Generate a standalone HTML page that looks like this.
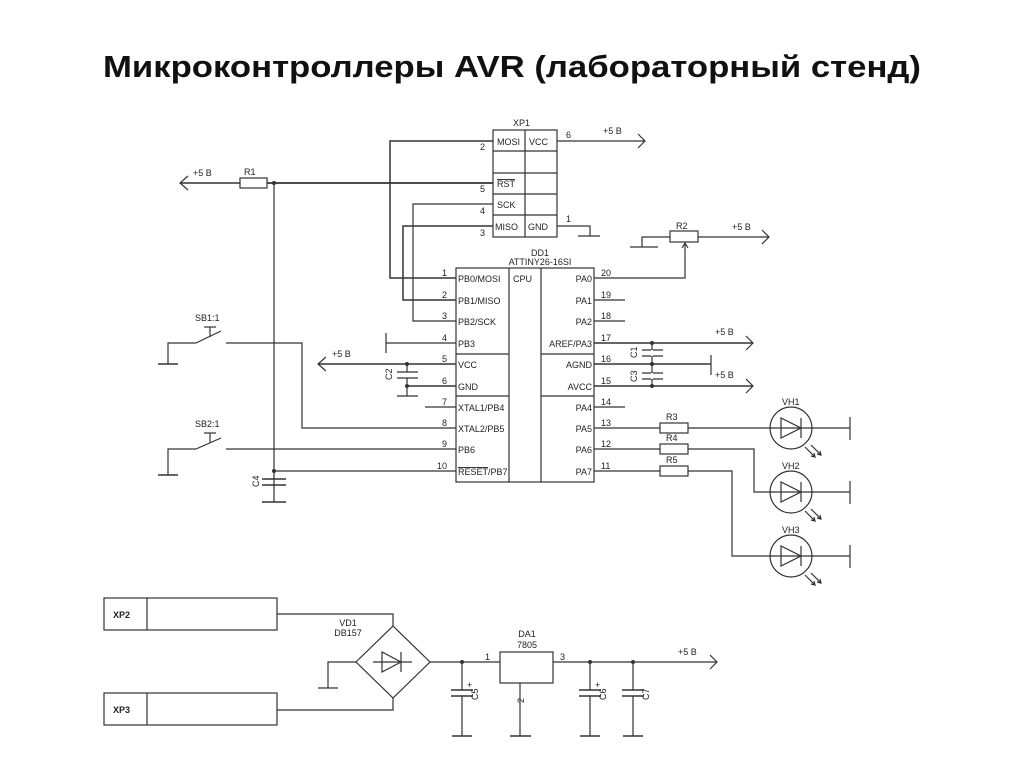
<!DOCTYPE html>
<html><head><meta charset="utf-8"><style>
html,body{margin:0;padding:0;background:#fff;}
svg{display:block;}
text{font-family:"Liberation Sans",sans-serif;fill:#222;}
.s{font-size:9px;}
</style></head><body>
<svg width="1024" height="767" viewBox="0 0 1024 767" xmlns="http://www.w3.org/2000/svg">
<text x="512" y="77" text-anchor="middle" font-size="31" font-weight="bold" textLength="818" lengthAdjust="spacingAndGlyphs" style="fill:#111">Микроконтроллеры AVR (лабораторный стенд)</text>
<g stroke="#333" stroke-width="1.2" fill="none">
<rect x="493" y="130" width="64" height="107"/>
<line x1="525" y1="130" x2="525" y2="237"/>
<line x1="493" y1="151" x2="557" y2="151"/><line x1="493" y1="173" x2="557" y2="173"/>
<line x1="493" y1="194" x2="557" y2="194"/><line x1="493" y1="215" x2="557" y2="215"/>
<line x1="557" y1="141" x2="645" y2="141"/><polyline points="638,134 645,141 638,148"/>
<polyline points="493,141 390,141 390,278 456,278" stroke-width="1.5"/>
<polyline points="493,204 413,204 413,321 456,321"/>
<polyline points="493,226 403,226 403,300 456,300" stroke-width="1.5"/>
<polyline points="557,226 590,226 590,236"/><line x1="578" y1="236" x2="600" y2="236"/>
<line x1="180" y1="183" x2="240" y2="183" stroke-width="1.5"/><polyline points="188,176 180,183 188,190"/>
<rect x="240" y="178" width="27" height="10"/>
<line x1="267" y1="183" x2="493" y2="183" stroke-width="1.8"/>
<line x1="274" y1="183" x2="274" y2="502"/>
<rect x="456" y="268" width="138" height="214"/>
<line x1="509" y1="268" x2="509" y2="482"/><line x1="541" y1="268" x2="541" y2="482"/>
<line x1="456" y1="354" x2="509" y2="354"/><line x1="456" y1="396" x2="509" y2="396"/>
<line x1="541" y1="354" x2="594" y2="354"/><line x1="541" y1="396" x2="594" y2="396"/>
<line x1="425" y1="407" x2="456" y2="407"/>
<line x1="594" y1="300" x2="625" y2="300"/><line x1="594" y1="321" x2="625" y2="321"/><line x1="594" y1="407" x2="625" y2="407"/>
<line x1="386" y1="343" x2="456" y2="343"/><line x1="386" y1="333" x2="386" y2="353"/>
<line x1="318" y1="364" x2="456" y2="364" stroke-width="1.6"/><polyline points="326,357 318,364 326,371"/>
<line x1="407" y1="364" x2="407" y2="372"/><line x1="397" y1="372" x2="418" y2="372"/><line x1="397" y1="378" x2="418" y2="378"/>
<line x1="407" y1="378" x2="407" y2="396"/><line x1="397" y1="396" x2="418" y2="396"/>
<line x1="407" y1="386" x2="456" y2="386" stroke-width="1.6"/>
<line x1="158" y1="364" x2="178" y2="364" stroke-width="1.6"/><polyline points="168,364 168,343 196,343"/>
<line x1="196" y1="343" x2="221" y2="331"/><line x1="210" y1="327" x2="210" y2="337"/><line x1="204" y1="327" x2="216" y2="327"/>
<polyline points="226,343 302,343 302,428 456,428"/>
<line x1="158" y1="475" x2="178" y2="475" stroke-width="1.6"/><polyline points="168,475 168,449 196,449"/>
<line x1="196" y1="449" x2="221" y2="438"/><line x1="210" y1="433" x2="210" y2="443"/><line x1="204" y1="433" x2="216" y2="433"/>
<line x1="226" y1="449" x2="456" y2="449"/>
<line x1="274" y1="471" x2="456" y2="471"/>
<line x1="262" y1="479" x2="286" y2="479" stroke-width="1.5"/><line x1="262" y1="485" x2="286" y2="485" stroke-width="1.5"/>
<line x1="262" y1="502" x2="286" y2="502" stroke-width="1.6"/>
<polyline points="594,278 685,278 685,243"/><polyline points="682,248 685,243 688,248"/>
<rect x="670" y="231" width="28" height="11"/>
<polyline points="670,237 642,237 642,247"/><line x1="630" y1="247" x2="658" y2="247"/>
<line x1="698" y1="237" x2="769" y2="237"/><polyline points="762,230 769,237 762,244"/>
<line x1="594" y1="343" x2="753" y2="343" stroke-width="1.5"/><polyline points="746,336 753,343 746,350"/>
<line x1="594" y1="364" x2="711" y2="364" stroke-width="1.5"/><line x1="711" y1="355" x2="711" y2="375"/>
<line x1="594" y1="386" x2="753" y2="386" stroke-width="1.5"/><polyline points="746,379 753,386 746,393"/>
<line x1="652" y1="343" x2="652" y2="386"/>
<line x1="642" y1="350" x2="663" y2="350"/><line x1="642" y1="356" x2="663" y2="356"/>
<line x1="642" y1="373" x2="663" y2="373"/><line x1="642" y1="379" x2="663" y2="379"/>
<line x1="652" y1="350" x2="652" y2="356" stroke="#fff" stroke-width="2"/>
<line x1="652" y1="373" x2="652" y2="379" stroke="#fff" stroke-width="2"/>
<line x1="594" y1="428" x2="660" y2="428"/><rect x="660" y="423" width="28" height="10"/>
<line x1="688" y1="428" x2="850" y2="428"/>
<line x1="594" y1="449" x2="660" y2="449"/><rect x="660" y="444" width="28" height="10"/>
<polyline points="688,449 754,449 754,492 850,492"/>
<line x1="594" y1="471" x2="660" y2="471"/><rect x="660" y="466" width="28" height="10"/>
<polyline points="688,471 732,471 732,556 850,556"/>
<line x1="850" y1="417" x2="850" y2="440"/><line x1="850" y1="481" x2="850" y2="504"/><line x1="850" y1="545" x2="850" y2="568"/>
<g id="vh"><circle cx="791" cy="428" r="21" fill="#fff"/>
<line x1="770" y1="428" x2="812" y2="428"/>
<polygon points="781,418 781,438 801,428"/><line x1="801" y1="418" x2="801" y2="438"/>
<line x1="805" y1="447" x2="815" y2="457"/><line x1="811" y1="445" x2="821" y2="455"/>
<polyline points="811,456 815,457 814,453"/><polyline points="817,454 821,455 820,451"/></g>
<use href="#vh" y="64"/><use href="#vh" y="128"/>
<rect x="104" y="598" width="173" height="32"/><line x1="147" y1="598" x2="147" y2="630"/>
<rect x="104" y="693" width="173" height="32"/><line x1="147" y1="693" x2="147" y2="725"/>
<polyline points="277,614 393,614 393,626"/><polyline points="277,710 393,710 393,698"/>
<polygon points="393,626 430,662 393,698 356,662"/>
<line x1="373" y1="662" x2="412" y2="662"/><polygon points="382,652 382,672 401,662"/><line x1="401" y1="652" x2="401" y2="672"/>
<polyline points="356,662 328,662 328,688"/><line x1="318" y1="688" x2="338" y2="688"/>
<line x1="430" y1="662" x2="500" y2="662"/>
<rect x="500" y="652" width="53" height="31"/>
<line x1="553" y1="662" x2="717" y2="662"/><polyline points="710,655 717,662 710,669"/>
<line x1="520" y1="683" x2="520" y2="736"/><line x1="510" y1="736" x2="531" y2="736" stroke-width="1.6"/>
<g id="cp"><line x1="462" y1="662" x2="462" y2="690"/><line x1="451" y1="690" x2="473" y2="690" stroke-width="1.5"/><line x1="451" y1="696" x2="473" y2="696" stroke-width="1.5"/><line x1="462" y1="696" x2="462" y2="736"/><line x1="452" y1="736" x2="472" y2="736" stroke-width="1.6"/></g>
<use href="#cp" x="128"/><use href="#cp" x="171"/>
</g>
<g fill="#333"><circle cx="274" cy="183" r="2"/><circle cx="274" cy="471" r="2"/><circle cx="407" cy="364" r="2"/><circle cx="407" cy="386" r="2"/><circle cx="652" cy="343" r="2"/><circle cx="652" cy="364" r="2"/><circle cx="652" cy="386" r="2"/><circle cx="462" cy="662" r="2"/><circle cx="590" cy="662" r="2"/><circle cx="633" cy="662" r="2"/></g>
<g class="s">
<text x="513" y="126">XP1</text>
<text x="497" y="145">MOSI</text><text x="529" y="145">VCC</text>
<text x="497" y="187" text-decoration="overline">RST</text>
<text x="497" y="208">SCK</text>
<text x="495" y="230">MISO</text><text x="528" y="230">GND</text>
<text x="480" y="150">2</text><text x="480" y="192">5</text><text x="480" y="214">4</text><text x="480" y="236">3</text>
<text x="566" y="138">6</text><text x="566" y="222">1</text>
<text x="603" y="134">+5 B</text><text x="193" y="176">+5 B</text><text x="244" y="175">R1</text>
<text x="540" y="256" text-anchor="middle">DD1</text><text x="540" y="265" text-anchor="middle">ATTINY26-16SI</text>
<text x="458" y="282">PB0/MOSI</text><text x="458" y="304">PB1/MISO</text><text x="458" y="325">PB2/SCK</text><text x="458" y="347">PB3</text>
<text x="458" y="368">VCC</text><text x="458" y="390">GND</text><text x="458" y="411">XTAL1/PB4</text><text x="458" y="432">XTAL2/PB5</text>
<text x="458" y="453">PB6</text><text x="458" y="475"><tspan text-decoration="overline">RESET</tspan>/PB7</text>
<text x="513" y="282">CPU</text>
<g text-anchor="end"><text x="592" y="282">PA0</text><text x="592" y="304">PA1</text><text x="592" y="325">PA2</text><text x="592" y="347">AREF/PA3</text>
<text x="592" y="368">AGND</text><text x="592" y="390">AVCC</text><text x="592" y="411">PA4</text><text x="592" y="432">PA5</text><text x="592" y="453">PA6</text><text x="592" y="475">PA7</text></g>
<text x="442" y="276">1</text><text x="442" y="298">2</text><text x="442" y="319">3</text><text x="442" y="341">4</text><text x="442" y="362">5</text><text x="442" y="384">6</text><text x="442" y="405">7</text><text x="442" y="426">8</text><text x="442" y="447">9</text><text x="437" y="469">10</text>
<text x="601" y="276">20</text><text x="601" y="298">19</text><text x="601" y="319">18</text><text x="601" y="341">17</text><text x="601" y="362">16</text><text x="601" y="384">15</text><text x="601" y="405">14</text><text x="601" y="426">13</text><text x="601" y="447">12</text><text x="601" y="469">11</text>
<text x="332" y="357">+5 B</text>
<text x="676" y="229">R2</text><text x="732" y="230">+5 B</text>
<text x="715" y="335">+5 B</text><text x="715" y="378">+5 B</text>
<text x="666" y="420">R3</text><text x="666" y="441">R4</text><text x="666" y="463">R5</text>
<text x="782" y="405">VH1</text><text x="782" y="469">VH2</text><text x="782" y="533">VH3</text>
<text x="195" y="321">SB1:1</text><text x="195" y="427">SB2:1</text>
<text transform="translate(392,380) rotate(-90)">C2</text>
<text transform="translate(259,487) rotate(-90)">C4</text>
<text transform="translate(637,358) rotate(-90)">C1</text>
<text transform="translate(637,382) rotate(-90)">C3</text>
<text x="113" y="618" font-weight="bold">XP2</text><text x="113" y="713" font-weight="bold">XP3</text>
<text x="348" y="626" text-anchor="middle">VD1</text><text x="348" y="636" text-anchor="middle">DB157</text>
<text x="527" y="637" text-anchor="middle">DA1</text><text x="527" y="648" text-anchor="middle">7805</text>
<text x="485" y="660">1</text><text x="560" y="660">3</text>
<text transform="translate(524,703) rotate(-90)">2</text>
<text x="678" y="655">+5 B</text>
<text x="467" y="688">+</text><text x="595" y="688">+</text>
<text transform="translate(478,700) rotate(-90)">C5</text>
<text transform="translate(606,700) rotate(-90)">C6</text>
<text transform="translate(649,700) rotate(-90)">C7</text>
</g>
</svg>
</body></html>
